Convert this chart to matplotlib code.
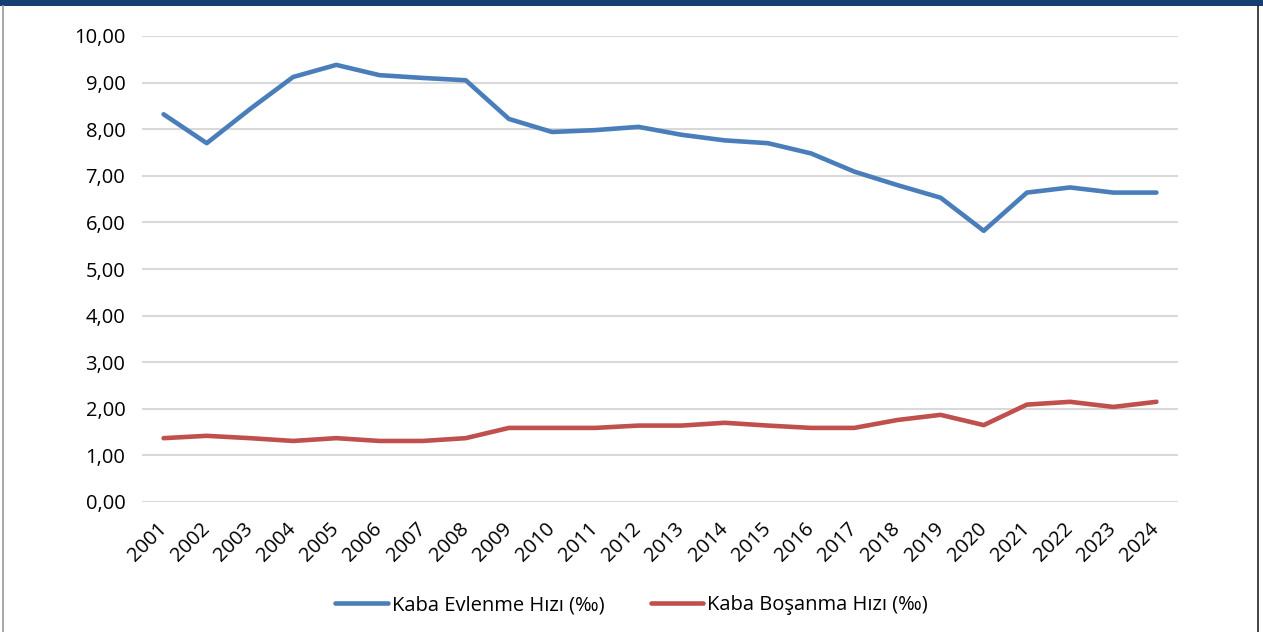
import matplotlib.pyplot as plt
from matplotlib.patches import Rectangle
from matplotlib.lines import Line2D

plt.rcParams['font.family'] = ['Open Sans', 'DejaVu Sans']

years = [str(y) for y in range(2001, 2025)]
evlenme = [8.32, 7.70, 8.43, 9.12, 9.38, 9.16, 9.10, 9.05, 8.22, 7.94, 7.98, 8.05,
           7.88, 7.76, 7.70, 7.48, 7.09, 6.80, 6.53, 5.82, 6.64, 6.75, 6.64, 6.64]
bosanma = [1.37, 1.42, 1.37, 1.31, 1.37, 1.31, 1.31, 1.37, 1.59, 1.59, 1.59, 1.64,
           1.64, 1.70, 1.64, 1.59, 1.59, 1.76, 1.87, 1.65, 2.09, 2.15, 2.04, 2.15]
yticks = [0, 1, 2, 3, 4, 5, 6, 7, 8, 9, 10]

W, H = 1263, 632
fig = plt.figure(figsize=(W / 100, H / 100), dpi=100)

# çerçeve: üstte lacivert bant, yanlarda ince kenarlar
fig.patches.append(Rectangle((0, 1 - 6 / H), 1, 6 / H, transform=fig.transFigure,
                             facecolor='#173F73', edgecolor='none'))
fig.lines.append(Line2D([3 / W, 3 / W], [0, 1 - 6 / H], transform=fig.transFigure,
                        color='#9A9A9A', lw=1.2))
fig.lines.append(Line2D([1258 / W, 1258 / W], [0, 1 - 6 / H], transform=fig.transFigure,
                        color='#222222', lw=1.2))

ax = fig.add_axes([142 / W, (H - 502) / H, (1178 - 142) / W, (502 - 36) / H])
x = list(range(len(years)))
ax.plot(x, evlenme, color='#4A7EBB', lw=3.3, solid_capstyle='round',
        label='Kaba Evlenme Hızı (‰)')
ax.plot(x, bosanma, color='#C0504D', lw=3.3, solid_capstyle='round',
        label='Kaba Boşanma Hızı (‰)')

ax.set_xlim(-0.5, len(years) - 0.5)
ax.set_ylim(0, 10)
ax.set_yticks(yticks)
ax.set_yticklabels([f'{v:.2f}'.replace('.', ',') for v in yticks], fontsize=14.5)
ax.set_xticks(x)
ax.set_xticklabels(years, rotation=45, ha='right', va='center',
                   rotation_mode='anchor', fontsize=14.5)
ax.tick_params(axis='x', length=0, pad=17)
ax.tick_params(axis='y', length=0, pad=12)
ax.grid(axis='y', color='#D9D9D9', lw=1.5)
ax.set_axisbelow(True)
for s in ax.spines.values():
    s.set_visible(False)

fig.legend(loc='center', bbox_to_anchor=(0.5, (H - 605) / H), ncol=2, frameon=False,
           fontsize=14.5, handlelength=2.6, handletextpad=0.2, columnspacing=2.3)

fig.savefig('out.png', dpi=100)
